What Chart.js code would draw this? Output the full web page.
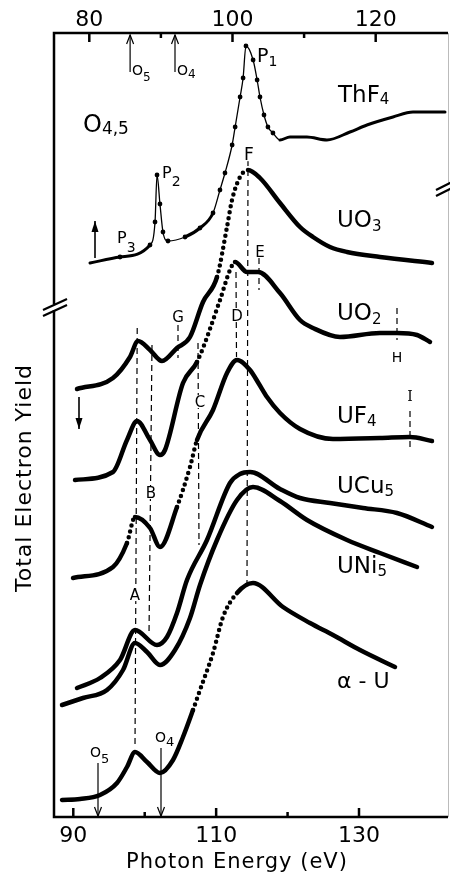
<!DOCTYPE html>
<html>
<head>
<meta charset="utf-8">
<script src="https://cdn.jsdelivr.net/npm/chart.js@4.4.0/dist/chart.umd.min.js"></script>
<style>
  html, body { margin: 0; padding: 0; background: #fff; }
</style>
</head>
<body>
<canvas id="yieldChart" width="450" height="875"></canvas>
<script>
// axes (eV): bottom axis for the uranium compounds, top axis for ThF4
const bottomTicks = [90, 110, 130];
const bottomMinor = [100, 120];
const topTicks = [80, 100, 120];
const topMinor = [90, 110];

// total electron yield, arbitrary units, curves offset vertically
const thf4Energy = [80.10, 84.29, 88.48, 89.18, 89.46, 89.87, 90.29, 90.99, 93.37, 95.46, 97.28, 98.25, 98.95, 99.95, 100.37, 101.06, 101.48, 101.88, 102.88, 103.44, 103.84, 104.40, 104.95, 105.65, 106.63, 108.02, 110.40, 113.19, 116.40, 118.78, 122.42, 125.21, 129.68];
const thf4Yield = [5.54, 5.60, 5.72, 5.95, 6.42, 6.13, 5.85, 5.76, 5.80, 5.89, 6.04, 6.27, 6.44, 6.72, 6.90, 7.20, 7.39, 7.71, 7.57, 7.37, 7.20, 7.02, 6.90, 6.84, 6.77, 6.80, 6.80, 6.77, 6.85, 6.92, 7.00, 7.05, 7.05];

const uo3Energy = [90.52, 95.56, 97.94, 99.06, 100.74, 102.42, 104.52, 106.34, 108.16, 110.12, 111.52, 112.22, 113.34, 114.46, 116.14, 118.94, 121.74, 123.56, 125.94, 128.32, 132.94, 140.22];
const uo3Yield = [4.28, 4.39, 4.60, 4.76, 4.67, 4.56, 4.69, 4.80, 5.15, 5.40, 5.90, 6.17, 6.40, 6.47, 6.39, 6.14, 5.90, 5.80, 5.70, 5.65, 5.60, 5.54];

const uo2Energy = [90.24, 95.56, 97.52, 98.92, 100.74, 102.14, 102.84, 105.36, 107.32, 110.54, 111.94, 112.64, 114.32, 115.86, 118.94, 121.74, 123.56, 127.34, 132.94, 135.32, 138.12, 139.94];
const uo2Yield = [3.37, 3.45, 3.77, 3.96, 3.77, 3.62, 3.67, 4.34, 4.55, 5.17, 5.47, 5.55, 5.45, 5.45, 5.24, 4.97, 4.89, 4.80, 4.84, 4.84, 4.82, 4.75];

const uf4Energy = [89.96, 95.56, 97.52, 98.64, 100.74, 102.14, 104.52, 106.34, 107.32, 109.56, 111.52, 112.92, 114.74, 116.00, 117.12, 118.94, 121.74, 126.36, 132.94, 137.14, 140.22];
const uf4Yield = [2.39, 2.50, 2.74, 3.00, 2.89, 2.70, 3.10, 3.50, 3.77, 4.07, 4.44, 4.57, 4.47, 4.33, 4.20, 4.04, 3.88, 3.78, 3.79, 3.80, 3.76];

const ucu5Energy = [90.52, 93.74, 96.54, 98.64, 101.72, 103.12, 104.52, 105.92, 108.72, 111.94, 113.34, 114.74, 118.94, 121.74, 125.94, 130.56, 135.32, 140.22];
const ucu5Yield = [1.29, 1.39, 1.57, 1.87, 1.72, 1.80, 2.04, 2.37, 2.77, 3.34, 3.43, 3.45, 3.28, 3.19, 3.14, 3.09, 3.04, 2.90];

const uni5Energy = [88.42, 91.36, 94.72, 96.96, 98.64, 100.32, 102.14, 104.24, 106.34, 107.74, 110.12, 112.92, 115.16, 118.94, 122.72, 128.32, 132.94, 138.12];
const uni5Yield = [1.12, 1.19, 1.27, 1.47, 1.74, 1.65, 1.52, 1.67, 1.99, 2.32, 2.77, 3.17, 3.30, 3.16, 2.97, 2.77, 2.64, 2.50];

const alphaEnergy = [88.42, 90.94, 93.74, 96.12, 97.52, 98.64, 100.32, 102.14, 103.96, 105.36, 106.76, 107.74, 109.56, 110.96, 112.92, 115.16, 119.36, 123.14, 126.36, 130.14, 135.04];
const alphaYield = [0.17, 0.18, 0.22, 0.34, 0.50, 0.65, 0.55, 0.44, 0.57, 0.80, 1.07, 1.27, 1.64, 2.00, 2.24, 2.34, 2.10, 1.94, 1.82, 1.67, 1.50];

// energy ranges drawn dotted / thin
const uo3Dotted = [[108.2, 113.5]];
const uo2Dotted = [[107.3, 112.2]];
const uf4Dotted = [[96.4, 98.4], [102.9, 107.3]];
const alphaDotted = [[105.4, 112.3]];
const thf4Thin = [[88.3, 91.0], [97.2, 105.7]];

// dashed marker lines [energy, yield] (bottom axis)
const lineA = [[98.95, 4.89], [98.64, 0.70]];
const lineB = [[101.02, 4.72], [100.60, 1.82]];
const lineC = [[107.46, 4.74], [107.60, 2.72]];
const lineD = [[112.78, 5.45], [112.85, 4.60]];
const lineE = [[116.0, 5.59], [116.0, 5.27]];
const lineF = [[114.46, 6.57], [114.32, 2.34]];
const lineG = [[104.66, 4.92], [104.66, 4.59]];
const lineH = [[135.32, 5.09], [135.32, 4.77]];
const lineI = [[137.14, 4.06], [137.14, 3.67]];

// absorption edges (eV)
const uEdges = [93.46, 102.28];
const thEdges = [85.70, 91.97];

const FONT = '"DejaVu Sans", sans-serif';

function toPoints(xs, ys) {
    return xs.map((x, i) => ({ x: x, y: ys[i] }));
}

function inRanges(v, ranges) {
    return ranges.some(r => v >= r[0] && v < r[1]);
}

function curve(xs, ys, dotted) {
    return {
        data: toPoints(xs, ys),
        borderColor: '#000',
        borderWidth: 4.5,
        borderCapStyle: 'round',
        borderJoinStyle: 'round',
        cubicInterpolationMode: 'monotone',
        pointRadius: 0,
        segment: {
            borderDash: ctx => inRanges(ctx.p0.parsed.x, dotted) ? [0, 6] : undefined
        }
    };
}

function marker(pts) {
    return {
        data: pts.map(p => ({ x: p[0], y: p[1] })),
        borderColor: '#000',
        borderWidth: 1.2,
        borderDash: [6, 4],
        pointRadius: 0
    };
}

function subText(ctx, x, y, main, sub, size, subSize, drop) {
    ctx.font = size + 'px ' + FONT;
    ctx.fillText(main, x, y);
    const w = ctx.measureText(main).width;
    ctx.font = subSize + 'px ' + FONT;
    ctx.fillText(sub, x + w, y + drop);
}

function vArrow(ctx, x, y1, y2, filled) {
    const dir = y2 > y1 ? 1 : -1;
    ctx.beginPath();
    ctx.moveTo(x, y1);
    ctx.lineTo(x, y2);
    ctx.stroke();
    if (filled) {
        ctx.beginPath();
        ctx.moveTo(x, y2);
        ctx.lineTo(x - 3.5, y2 - dir * 11);
        ctx.lineTo(x + 3.5, y2 - dir * 11);
        ctx.closePath();
        ctx.fill();
    } else {
        ctx.beginPath();
        ctx.moveTo(x - 3.5, y2 - dir * 9);
        ctx.lineTo(x, y2);
        ctx.lineTo(x + 3.5, y2 - dir * 9);
        ctx.stroke();
    }
}

const decorPlugin = {
    id: 'decor',
    afterDatasetsDraw(chart) {
        const ctx = chart.ctx;
        const a = chart.chartArea;
        const xb = chart.scales.x;
        const xt = chart.scales.x2;
        ctx.save();
        ctx.fillStyle = '#000';
        ctx.strokeStyle = '#000';
        ctx.lineCap = 'butt';

        // frame
        ctx.lineWidth = 2.5;
        ctx.beginPath();
        ctx.moveTo(a.right, a.top);
        ctx.lineTo(a.left, a.top);
        ctx.lineTo(a.left, a.bottom);
        ctx.lineTo(a.right, a.bottom);
        ctx.stroke();
        ctx.strokeStyle = '#bbb';
        ctx.lineWidth = 1;
        ctx.beginPath();
        ctx.moveTo(a.right + 0.5, a.top);
        ctx.lineTo(a.right + 0.5, a.bottom);
        ctx.stroke();
        ctx.strokeStyle = '#000';

        // inward ticks
        ctx.lineWidth = 2.5;
        bottomTicks.concat(bottomMinor).forEach(v => {
            const px = xb.getPixelForValue(v);
            const len = bottomTicks.includes(v) ? 9 : 5;
            ctx.beginPath();
            ctx.moveTo(px, a.bottom);
            ctx.lineTo(px, a.bottom - len);
            ctx.stroke();
        });
        topTicks.concat(topMinor).forEach(v => {
            const px = xt.getPixelForValue(v);
            const len = topTicks.includes(v) ? 9 : 5;
            ctx.beginPath();
            ctx.moveTo(px, a.top);
            ctx.lineTo(px, a.top + len);
            ctx.stroke();
        });

        // tick labels
        ctx.font = '22px ' + FONT;
        ctx.textAlign = 'center';
        ctx.textBaseline = 'middle';
        bottomTicks.forEach(v => ctx.fillText(String(v), xb.getPixelForValue(v), a.bottom + 19));
        topTicks.forEach(v => ctx.fillText(String(v), xt.getPixelForValue(v), a.top - 13));

        // axis titles
        ctx.font = '21px ' + FONT;
        ctx.letterSpacing = '1px';
        ctx.fillText('Photon Energy (eV)', 237, 863);
        ctx.save();
        ctx.translate(25, 478);
        ctx.rotate(-Math.PI / 2);
        ctx.font = '22px ' + FONT;
        ctx.fillText('Total Electron Yield', 0, 0);
        ctx.restore();
        ctx.letterSpacing = '0px';

        // axis breaks
        ctx.fillStyle = '#fff';
        ctx.fillRect(a.left - 3, 304, 6, 6);
        ctx.fillRect(a.right - 4, 185, 8, 6);
        ctx.fillStyle = '#000';
        ctx.lineWidth = 2.2;
        [[43, 316, 67, 305], [43, 310, 67, 299], [436, 196, 452, 188], [436, 190, 452, 182]].forEach(s => {
            ctx.beginPath();
            ctx.moveTo(s[0], s[1]);
            ctx.lineTo(s[2], s[3]);
            ctx.stroke();
        });

        // edge arrows
        ctx.lineWidth = 1.2;
        uEdges.forEach(e => vArrow(ctx, xb.getPixelForValue(e), e < 100 ? 763 : 748, a.bottom - 1, false));
        thEdges.forEach(e => vArrow(ctx, xt.getPixelForValue(e), 72, a.top + 2, false));
        ctx.lineWidth = 1.6;
        vArrow(ctx, 95, 258, 221, true);
        vArrow(ctx, 79, 397, 429, true);

        // curve names
        ctx.textAlign = 'left';
        ctx.textBaseline = 'alphabetic';
        subText(ctx, 338, 102, 'ThF', '4', 23, 15, 2);
        subText(ctx, 337, 227, 'UO', '3', 23, 15, 4);
        subText(ctx, 337, 320, 'UO', '2', 23, 15, 4);
        subText(ctx, 337, 423, 'UF', '4', 23, 15, 3);
        subText(ctx, 337, 493, 'UCu', '5', 23, 15, 3);
        subText(ctx, 337, 573, 'UNi', '5', 23, 15, 3);
        ctx.font = '22px ' + FONT;
        ctx.fillText('α - U', 337, 688);
        subText(ctx, 83, 132, 'O', '4,5', 24, 17, 2);

        // peak labels
        subText(ctx, 257, 62, 'P', '1', 19, 14, 4);
        subText(ctx, 162, 178, 'P', '2', 16, 14, 8);
        subText(ctx, 117, 243, 'P', '3', 16, 14, 9);
        subText(ctx, 132, 75, 'O', '5', 14, 12, 6);
        subText(ctx, 177, 75, 'O', '4', 14, 12, 3);
        subText(ctx, 90, 757, 'O', '5', 14, 13, 6);
        subText(ctx, 155, 742, 'O', '4', 14, 13, 4);

        // feature letters with white background
        ctx.textAlign = 'center';
        [['A', 135, 600, 15, FONT], ['B', 151, 498, 15, FONT], ['C', 200, 407, 15, FONT], ['D', 237, 321, 15, FONT],
         ['E', 260, 257, 15, FONT], ['F', 249, 160, 17, FONT], ['G', 178, 322, 15, FONT], ['H', 397, 362, 14, FONT],
         ['I', 410, 401, 14, '"DejaVu Serif", serif']].forEach(l => {
            ctx.font = l[3] + 'px ' + l[4];
            const w = ctx.measureText(l[0]).width;
            ctx.fillStyle = '#fff';
            ctx.fillRect(l[1] - w / 2 - 1, l[2] - l[3] * 0.78, w + 2, l[3] * 0.85);
            ctx.fillStyle = '#000';
            ctx.fillText(l[0], l[1], l[2]);
        });
        ctx.restore();
    }
};

const datasets = [
    curve(uo3Energy, uo3Yield, uo3Dotted),
    curve(uo2Energy, uo2Yield, uo2Dotted),
    curve(uf4Energy, uf4Yield, uf4Dotted),
    curve(ucu5Energy, ucu5Yield, []),
    curve(uni5Energy, uni5Yield, []),
    curve(alphaEnergy, alphaYield, alphaDotted),
    {
        data: toPoints(thf4Energy, thf4Yield),
        xAxisID: 'x2',
        borderColor: '#000',
        borderWidth: 3,
        borderCapStyle: 'round',
        cubicInterpolationMode: 'monotone',
        pointRadius: c => (c.raw && c.raw.x > 83 && c.raw.x < 106) ? 2.4 : 0,
        pointBackgroundColor: '#000',
        pointBorderWidth: 0,
        segment: {
            borderWidth: ctx => inRanges(ctx.p0.parsed.x, thf4Thin) ? 1.3 : 3
        }
    },
    marker(lineA), marker(lineB), marker(lineC), marker(lineD), marker(lineE),
    marker(lineF), marker(lineG), marker(lineH), marker(lineI)
];

new Chart(document.getElementById('yieldChart'), {
    type: 'line',
    data: { datasets: datasets },
    options: {
        responsive: false,
        animation: false,
        layout: { padding: { left: 54, right: 2, top: 33, bottom: 58 } },
        plugins: { legend: { display: false }, tooltip: { enabled: false } },
        scales: {
            x: { type: 'linear', min: 87.3, max: 142.46, display: false },
            x2: { type: 'linear', position: 'top', min: 75.07, max: 130.1, display: false },
            y: { min: 0, max: 7.84, display: false }
        }
    },
    plugins: [decorPlugin]
});
</script>
</body>
</html>
